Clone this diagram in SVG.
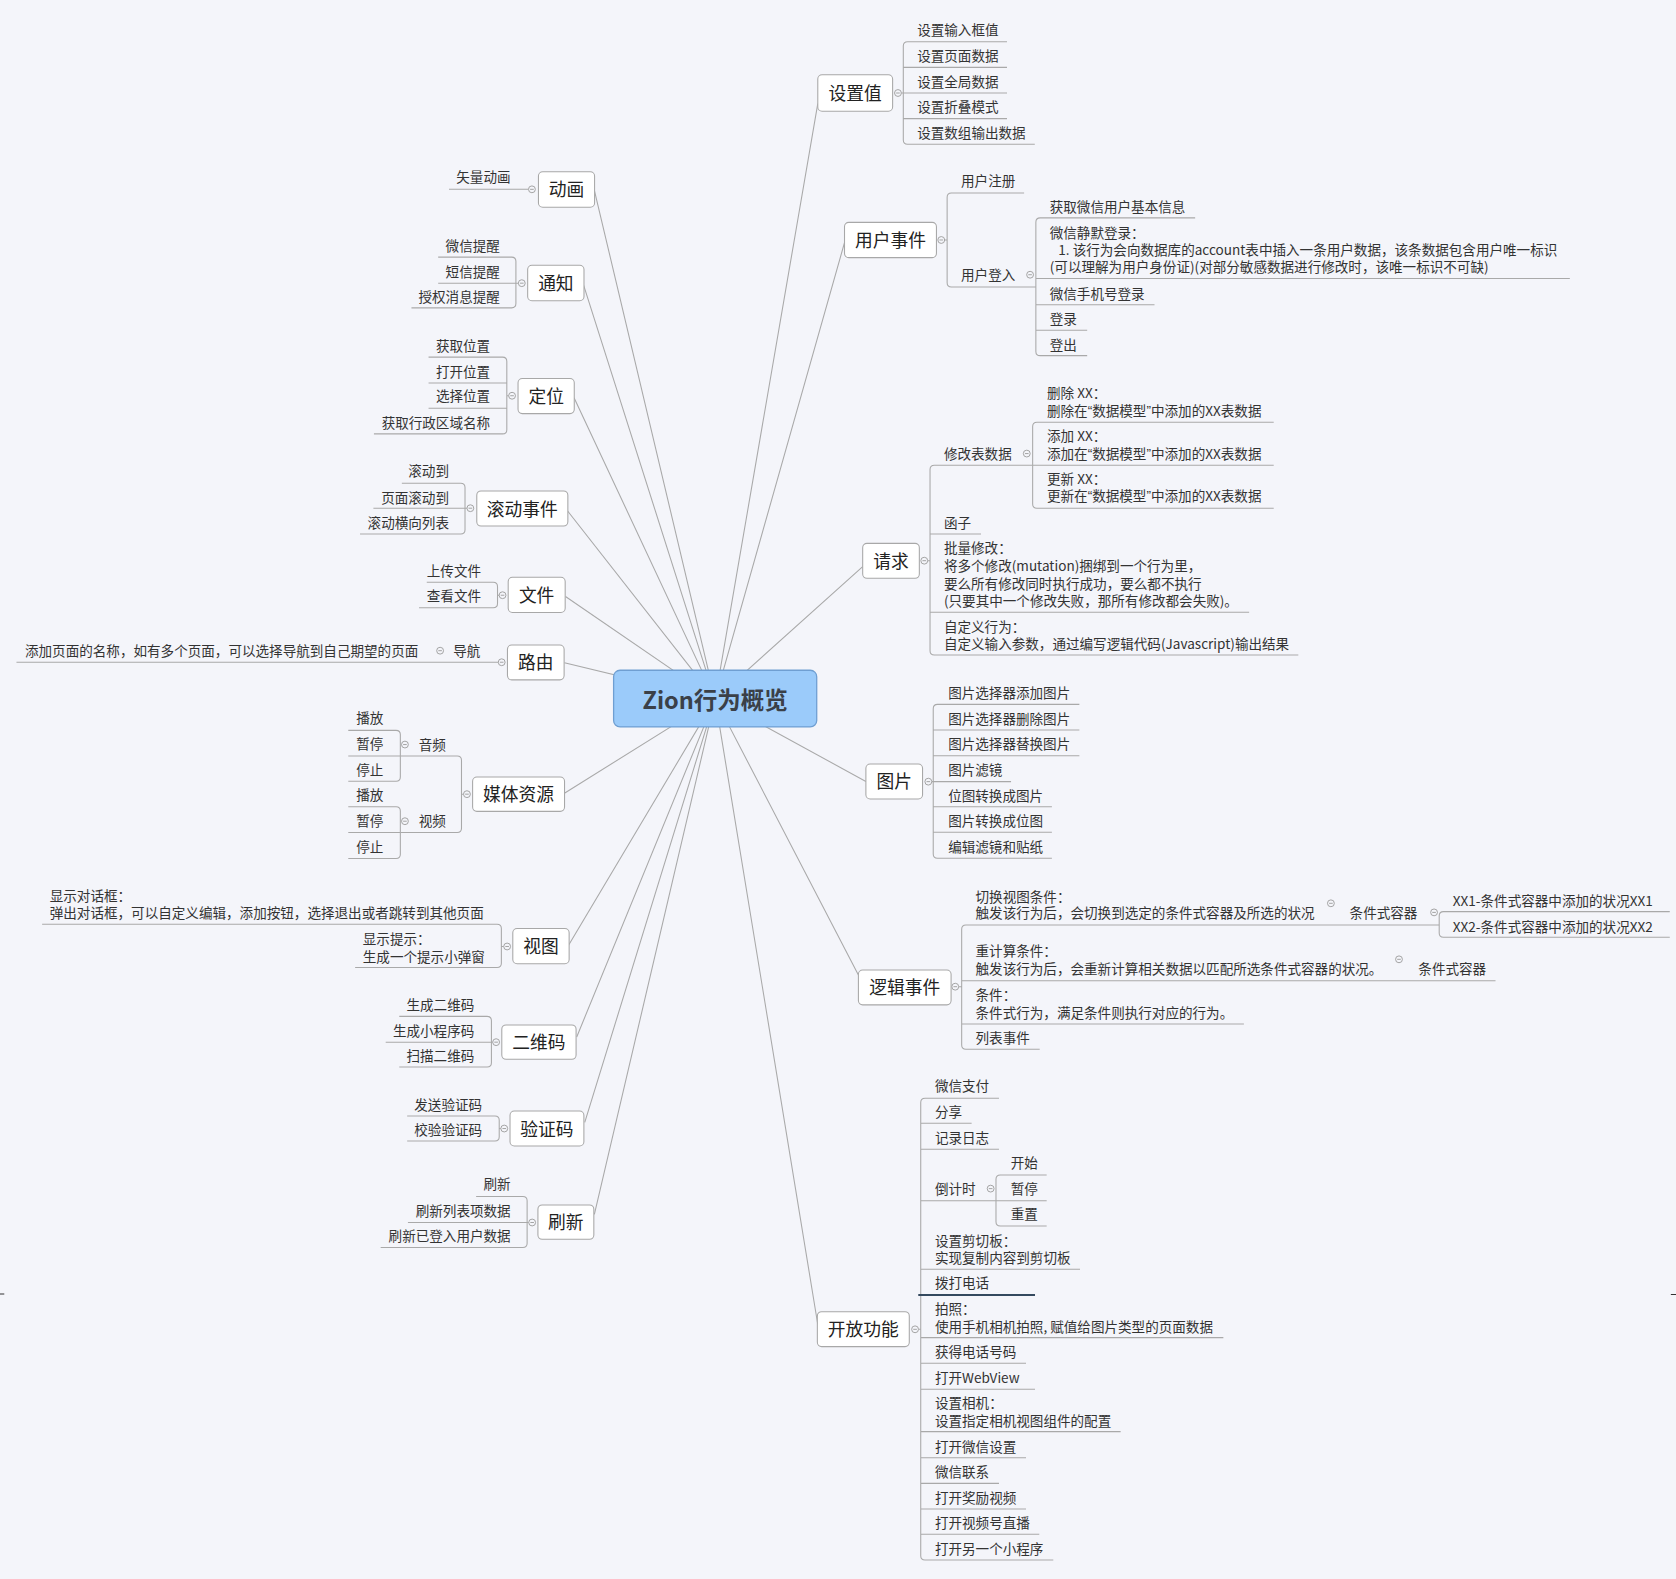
<svg xmlns="http://www.w3.org/2000/svg" xmlns:xlink="http://www.w3.org/1999/xlink" width="1676" height="1579" viewBox="0 0 1676 1579">
<style>
.ln{fill:none;stroke:#a9a9a9;stroke-width:1}
.t{font-family:"Noto Sans CJK SC","Microsoft YaHei",sans-serif;font-size:12.7px;fill:#333;dominant-baseline:central;transform:translateY(-0.9px)}
.e{text-anchor:end}
.m{font-size:16.6px;text-anchor:middle;fill:#222}
.box{fill:#fff;stroke:#a8a8a8;stroke-width:1}
.knob circle{fill:#f4f5fa;stroke:#a0a0a0;stroke-width:0.9}
.knob path{stroke:#a0a0a0;stroke-width:0.9}
.q{font-family:"Liberation Sans",sans-serif}
</style>
<defs>
<g id="k" class="knob"><circle r="3.2"/><path d="M-1.7 0H1.7"/></g>
</defs>
<rect width="1676" height="1579" fill="#f4f5fa"/>
<g transform="scale(1.069)">
<g id="connectors">
<g id="main-lines" class="ln">
<path d="M669 654L765 97M669 654L790 227M669 654L807 530M669 654L810 731M669 654L803 912M669 654L765 1239"/>
<path d="M669 654L556 178M669 654L546 267M669 654L537 372M669 654L531 478M669 654L529 558M669 654L528 620M669 654L528 742M669 654L532 884M669 654L539.5 970M669 654L547 1050M669 654L556 1136"/>
</g>
<g id="branch-lines" class="ln">
<path d="M942 39H849Q845 39 845 43V131Q845 135 849 135H968M845 63H942M845 87H942M845 111H942M843.3 87H845"/>
<path d="M958 180.5H890Q886 180.5 886 184.5V264.4Q886 268.4 890 268.4H969M883.8 224.5H886"/>
<path d="M1118 203.8H973Q969 203.8 969 207.8V328.7Q969 332.7 973 332.7H1017M969 260.6H1468.5M969 285H1080M969 309H1017"/>
<path d="M966 435.3H874Q870 435.3 870 439.3V608.8Q870 612.8 874 612.8H1214.5M870 499.6H917.7M870 572.8H1168.5M867.9 524.5H870"/>
<path d="M1191.5 395H970Q966 395 966 399V471.4Q966 475.4 970 475.4H1191.5M966 435.3H1191.5"/>
<path d="M1009.7 658.9H877Q873 658.9 873 662.9V798.9Q873 802.9 877 802.9H984M873 682.9H1009.7M873 706.9H1009.7M873 731.2H945.8M873 754.6H984M873 778.6H984M871.7 731.2H873"/>
<path d="M1346.3 865.3H903.6Q899.6 865.3 899.6 869.3V977.6Q899.6 981.6 903.6 981.6H972.6M899.6 917.4H1399M899.6 957.9H1163.6M896.9 923H899.6"/>
<path d="M1562 852.8H1350.3Q1346.3 852.8 1346.3 856.8V872.8Q1346.3 876.8 1350.3 876.8H1562"/>
<path d="M934.5 1027.4H865.3Q861.3 1027.4 861.3 1031.4V1455.3Q861.3 1459.3 865.3 1459.3H985.3M861.3 1050.8H908.9M861.3 1075.1H934.5M861.3 1123.2H931.7M861.3 1187.4H1010.3M861.3 1251.3H1144.4M861.3 1275.3H959.8M861.3 1299.6H968.2M861.3 1339.2H1048.3M861.3 1363.6H959.8M861.3 1387.6H934.5M861.3 1411.6H959.8M861.3 1435.3H972.2M859.3 1243.5H861.3"/>
<path d="M979.1 1099.1H935.7Q931.7 1099.1 931.7 1103.1V1142.9Q931.7 1146.9 935.7 1146.9H979.1M931.7 1123.2H979.1"/>
<path d="M420 177.1H494.3"/>
<path d="M409.9 240.5H478.6Q482.6 240.5 482.6 244.5V284Q482.6 288 478.6 288H384.9M482.6 264.9H409.9M484.9 264.9H482.6"/>
<path d="M400.9 334.1H470.1Q474.1 334.1 474.1 338.1V401.9Q474.1 405.9 470.1 405.9H349.8M474.1 358.2H400.9M474.1 381.9H400.9M475.8 370.2H474.1"/>
<path d="M375.9 452H431Q435 452 435 456V495.5Q435 499.5 431 499.5H336.8M435 475.4H349.3M436.8 475.4H435"/>
<path d="M399.2 544.6H461.4Q465.4 544.6 465.4 548.6V564.6Q465.4 568.6 461.4 568.6H392M466.9 556.8H465.4"/>
<path d="M15.4 619.5H466.1"/>
<path d="M374.5 707.2H427.7Q431.7 707.2 431.7 711.2V774.8Q431.7 778.8 427.7 778.8H374.5M433.6 742.9H431.7"/>
<path d="M325.8 683.2H370.5Q374.5 683.2 374.5 687.2V726.8Q374.5 730.8 370.5 730.8H325.8M374.5 707.2H325.8"/>
<path d="M325.8 754.7H370.5Q374.5 754.7 374.5 758.7V799.1Q374.5 803.1 370.5 803.1H325.8M374.5 778.8H325.8"/>
<path d="M39.4 864.6H465Q469 864.6 469 868.6V901.1Q469 905.1 465 905.1H332.2M471.2 885.4H469"/>
<path d="M373.5 950.8H455.7Q459.7 950.8 459.7 954.8V994.2Q459.7 998.2 455.7 998.2H373.5M459.7 974.9H360.8M460.9 974.9H459.7"/>
<path d="M380.9 1044H463Q467 1044 467 1048V1063.4Q467 1067.4 463 1067.4H380.9M468.5 1055.7H467"/>
<path d="M445.4 1119.2H489.1Q493.1 1119.2 493.1 1123.2V1163Q493.1 1167 489.1 1167H356.1M493.1 1143.6H381.6M494.6 1143.6H493.1"/>
</g>
<path d="M859 1211.4H968.2" fill="none" stroke="#34495e" stroke-width="2"/>
<path d="M0 1210.5H4M1563 1211H1568" fill="none" stroke="#333" stroke-width="1"/>
</g>

<g id="root">
<rect x="574" y="627" width="190" height="53" rx="6" fill="#9bcbfa" stroke="#6f9fd2" stroke-width="1.2"/>
<text x="669" y="654.5" class="t" style="font-size:22px;font-weight:bold;text-anchor:middle;fill:#3a4048">Zion行为概览</text>
</g>

<g id="node-shezhizhi">
<rect x="765" y="70" width="70" height="34" rx="4" class="box"/>
<text x="800" y="87" class="t m">设置值</text>
<use xlink:href="#k" x="840" y="87"/>
<text x="858" y="28.4" class="t">设置输入框值</text>
<text x="858" y="52.4" class="t">设置页面数据</text>
<text x="858" y="76.4" class="t">设置全局数据</text>
<text x="858" y="100.4" class="t">设置折叠模式</text>
<text x="858" y="124.4" class="t">设置数组输出数据</text>
</g>

<g id="node-yonghushijian">
<rect x="790" y="208" width="86" height="33" rx="4" class="box"/>
<text x="833" y="224.5" class="t m">用户事件</text>
<use xlink:href="#k" x="880.5" y="224.5"/>
<text x="899" y="169.5" class="t">用户注册</text>
<text x="899" y="257" class="t">用户登入</text>
<use xlink:href="#k" x="963.6" y="257"/>
<text x="982" y="193.5" class="t">获取微信用户基本信息</text>
<text x="982" y="217.8" class="t">微信静默登录：</text>
<text x="990" y="233.9" class="t">1. 该行为会向数据库的account表中插入一条用户数据，该条数据包含用户唯一标识</text>
<text x="982" y="249.9" class="t">(可以理解为用户身份证)(对部分敏感数据进行修改时，该唯一标识不可缺)</text>
<text x="982" y="274.6" class="t">微信手机号登录</text>
<text x="982" y="298.7" class="t">登录</text>
<text x="982" y="322.7" class="t">登出</text>
</g>

<g id="node-qingqiu">
<rect x="807" y="508.3" width="53" height="32.7" rx="4" class="box"/>
<text x="833.5" y="524.7" class="t m">请求</text>
<use xlink:href="#k" x="864.6" y="524.5"/>
<text x="883" y="424.3" class="t">修改表数据</text>
<use xlink:href="#k" x="960.5" y="424.3"/>
<text x="979.4" y="367.5" class="t">删除 XX：</text>
<text x="979.4" y="384.2" class="t">删除在<tspan class="q">“</tspan>数据模型<tspan class="q">”</tspan>中添加的XX表数据</text>
<text x="979.4" y="407.6" class="t">添加 XX：</text>
<text x="979.4" y="424.3" class="t">添加在<tspan class="q">“</tspan>数据模型<tspan class="q">”</tspan>中添加的XX表数据</text>
<text x="979.4" y="447.7" class="t">更新 XX：</text>
<text x="979.4" y="464.4" class="t">更新在<tspan class="q">“</tspan>数据模型<tspan class="q">”</tspan>中添加的XX表数据</text>
<text x="883" y="489" class="t">函子</text>
<text x="883" y="513" class="t">批量修改：</text>
<text x="883" y="529.5" class="t">将多个修改(mutation)捆绑到一个行为里，</text>
<text x="883" y="546" class="t">要么所有修改同时执行成功，要么都不执行</text>
<text x="883" y="562.5" class="t">(只要其中一个修改失败，那所有修改都会失败)。</text>
<text x="883" y="586.2" class="t">自定义行为：</text>
<text x="883" y="602.7" class="t">自定义输入参数，通过编写逻辑代码(Javascript)输出结果</text>
</g>

<g id="node-tupian">
<rect x="810" y="714.7" width="53" height="32.7" rx="4" class="box"/>
<text x="836.5" y="731" class="t m">图片</text>
<use xlink:href="#k" x="868.4" y="731.2"/>
<text x="887" y="648.6" class="t">图片选择器添加图片</text>
<text x="887" y="672.6" class="t">图片选择器删除图片</text>
<text x="887" y="696.3" class="t">图片选择器替换图片</text>
<text x="887" y="720.3" class="t">图片滤镜</text>
<text x="887" y="744.3" class="t">位图转换成图片</text>
<text x="887" y="768" class="t">图片转换成位图</text>
<text x="887" y="792" class="t">编辑滤镜和贴纸</text>
</g>

<g id="node-luojishijian">
<rect x="803" y="907.4" width="86.7" height="32.6" rx="4" class="box"/>
<text x="846.3" y="923.7" class="t m">逻辑事件</text>
<use xlink:href="#k" x="893.6" y="923"/>
<text x="912.6" y="838.8" class="t">切换视图条件：</text>
<text x="912.6" y="854.4" class="t">触发该行为后，会切换到选定的条件式容器及所选的状况</text>
<use xlink:href="#k" x="1245" y="845"/>
<text x="1262.5" y="854.4" class="t">条件式容器</text>
<use xlink:href="#k" x="1341.5" y="853.5"/>
<text x="1359" y="842.5" class="t">XX1-条件式容器中添加的状况XX1</text>
<text x="1359" y="866.9" class="t">XX2-条件式容器中添加的状况XX2</text>
<text x="912.6" y="889.3" class="t">重计算条件：</text>
<text x="912.6" y="906.8" class="t">触发该行为后，会重新计算相关数据以匹配所选条件式容器的状况。</text>
<use xlink:href="#k" x="1308.7" y="897.4"/>
<text x="1326.8" y="906.8" class="t">条件式容器</text>
<text x="912.6" y="930.8" class="t">条件：</text>
<text x="912.6" y="948" class="t">条件式行为，满足条件则执行对应的行为。</text>
<text x="912.6" y="971.3" class="t">列表事件</text>
</g>

<g id="node-kaifanggongneng">
<rect x="764.6" y="1227" width="86" height="32.7" rx="4" class="box"/>
<text x="807.6" y="1243.4" class="t m">开放功能</text>
<use xlink:href="#k" x="856" y="1243.5"/>
<text x="874.6" y="1015.9" class="t">微信支付</text>
<text x="874.6" y="1040.5" class="t">分享</text>
<text x="874.6" y="1064.9" class="t">记录日志</text>
<text x="874.6" y="1112.6" class="t">倒计时</text>
<use xlink:href="#k" x="926.7" y="1111.9"/>
<text x="945.4" y="1088.2" class="t">开始</text>
<text x="945.4" y="1111.9" class="t">暂停</text>
<text x="945.4" y="1135.9" class="t">重置</text>
<text x="874.6" y="1160.9" class="t">设置剪切板：</text>
<text x="874.6" y="1176.5" class="t">实现复制内容到剪切板</text>
<text x="874.6" y="1200.5" class="t">拨打电话</text>
<text x="874.6" y="1224.8" class="t">拍照：</text>
<text x="874.6" y="1241" class="t">使用手机相机拍照, 赋值给图片类型的页面数据</text>
<text x="874.6" y="1265" class="t">获得电话号码</text>
<text x="874.6" y="1288.7" class="t">打开WebView</text>
<text x="874.6" y="1312.7" class="t">设置相机：</text>
<text x="874.6" y="1329.3" class="t">设置指定相机视图组件的配置</text>
<text x="874.6" y="1353.3" class="t">打开微信设置</text>
<text x="874.6" y="1377.3" class="t">微信联系</text>
<text x="874.6" y="1401" class="t">打开奖励视频</text>
<text x="874.6" y="1425" class="t">打开视频号直播</text>
<text x="874.6" y="1449" class="t">打开另一个小程序</text>
</g>

<g id="node-donghua">
<rect x="503.7" y="160.7" width="52.5" height="33.1" rx="4" class="box"/>
<text x="530" y="177.2" class="t m">动画</text>
<use xlink:href="#k" x="497.6" y="177.1"/>
<text x="477.6" y="166" class="t e">矢量动画</text>
</g>

<g id="node-tongzhi">
<rect x="493.6" y="248.2" width="52.7" height="33.1" rx="4" class="box"/>
<text x="520" y="264.8" class="t m">通知</text>
<use xlink:href="#k" x="488.1" y="264.9"/>
<text x="467.6" y="230.5" class="t e">微信提醒</text>
<text x="467.6" y="254.6" class="t e">短信提醒</text>
<text x="467.6" y="278" class="t e">授权消息提醒</text>
</g>

<g id="node-dingwei">
<rect x="484.6" y="354.1" width="52.6" height="32.8" rx="4" class="box"/>
<text x="511" y="370.5" class="t m">定位</text>
<use xlink:href="#k" x="479" y="370.2"/>
<text x="458.5" y="323.4" class="t e">获取位置</text>
<text x="458.5" y="347.5" class="t e">打开位置</text>
<text x="458.5" y="370.8" class="t e">选择位置</text>
<text x="458.5" y="395.9" class="t e">获取行政区域名称</text>
</g>

<g id="node-gundongshijian">
<rect x="446" y="459.3" width="85.2" height="32.8" rx="4" class="box"/>
<text x="488.6" y="475.7" class="t m">滚动事件</text>
<use xlink:href="#k" x="440" y="475.4"/>
<text x="420" y="441" class="t e">滚动到</text>
<text x="420" y="465.4" class="t e">页面滚动到</text>
<text x="420" y="488.8" class="t e">滚动横向列表</text>
</g>

<g id="node-wenjian">
<rect x="475.4" y="540" width="53.3" height="32.9" rx="4" class="box"/>
<text x="502" y="556.5" class="t m">文件</text>
<use xlink:href="#k" x="470.1" y="556.8"/>
<text x="450" y="533.9" class="t e">上传文件</text>
<text x="450" y="557.9" class="t e">查看文件</text>
</g>

<g id="node-luyou">
<rect x="474.7" y="603.4" width="53" height="32.6" rx="4" class="box"/>
<text x="501.2" y="619.7" class="t m">路由</text>
<use xlink:href="#k" x="469.3" y="619.5"/>
<text x="449.3" y="608.7" class="t e">导航</text>
<use xlink:href="#k" x="411.7" y="608.7"/>
<text x="391.3" y="608.7" class="t e">添加页面的名称，如有多个页面，可以选择导航到自己期望的页面</text>
</g>

<g id="node-meitiziyuan">
<rect x="442.1" y="726.9" width="86" height="32.1" rx="4" class="box"/>
<text x="485.1" y="743" class="t m">媒体资源</text>
<use xlink:href="#k" x="436.8" y="742.9"/>
<text x="417" y="696.5" class="t e">音频</text>
<use xlink:href="#k" x="378.8" y="696.5"/>
<text x="358.7" y="671.8" class="t e">播放</text>
<text x="358.7" y="695.7" class="t e">暂停</text>
<text x="358.7" y="720" class="t e">停止</text>
<text x="417" y="768.4" class="t e">视频</text>
<use xlink:href="#k" x="378.8" y="768.2"/>
<text x="358.7" y="744.1" class="t e">播放</text>
<text x="358.7" y="768.4" class="t e">暂停</text>
<text x="358.7" y="792.3" class="t e">停止</text>
</g>

<g id="node-shitu">
<rect x="479.7" y="868.6" width="52.7" height="32.9" rx="4" class="box"/>
<text x="506" y="885" class="t m">视图</text>
<use xlink:href="#k" x="474.4" y="885.4"/>
<text x="46.5" y="837.8" class="t">显示对话框：</text>
<text x="46.5" y="854.2" class="t">弹出对话框，可以自定义编辑，添加按钮，选择退出或者跳转到其他页面</text>
<text x="339.4" y="878.3" class="t">显示提示：</text>
<text x="339.4" y="895.1" class="t">生成一个提示小弹窗</text>
</g>

<g id="node-erweima">
<rect x="469.4" y="958.8" width="69.5" height="32.1" rx="4" class="box"/>
<text x="504.1" y="975" class="t m">二维码</text>
<use xlink:href="#k" x="464.1" y="974.9"/>
<text x="443.7" y="940.5" class="t e">生成二维码</text>
<text x="443.7" y="964.2" class="t e">生成小程序码</text>
<text x="443.7" y="987.6" class="t e">扫描二维码</text>
</g>

<g id="node-yanzhengma">
<rect x="477.1" y="1039.3" width="69.1" height="32.7" rx="4" class="box"/>
<text x="511.6" y="1055.7" class="t m">验证码</text>
<use xlink:href="#k" x="471.7" y="1055.7"/>
<text x="451" y="1033.3" class="t e">发送验证码</text>
<text x="451" y="1056.7" class="t e">校验验证码</text>
</g>

<g id="node-shuaxin">
<rect x="503.2" y="1127.2" width="52.3" height="32.1" rx="4" class="box"/>
<text x="529.3" y="1143.3" class="t m">刷新</text>
<use xlink:href="#k" x="497.8" y="1143.6"/>
<text x="477.7" y="1107.8" class="t e">刷新</text>
<text x="477.7" y="1132.6" class="t e">刷新列表项数据</text>
<text x="477.7" y="1156" class="t e">刷新已登入用户数据</text>
</g>
</g>
</svg>
